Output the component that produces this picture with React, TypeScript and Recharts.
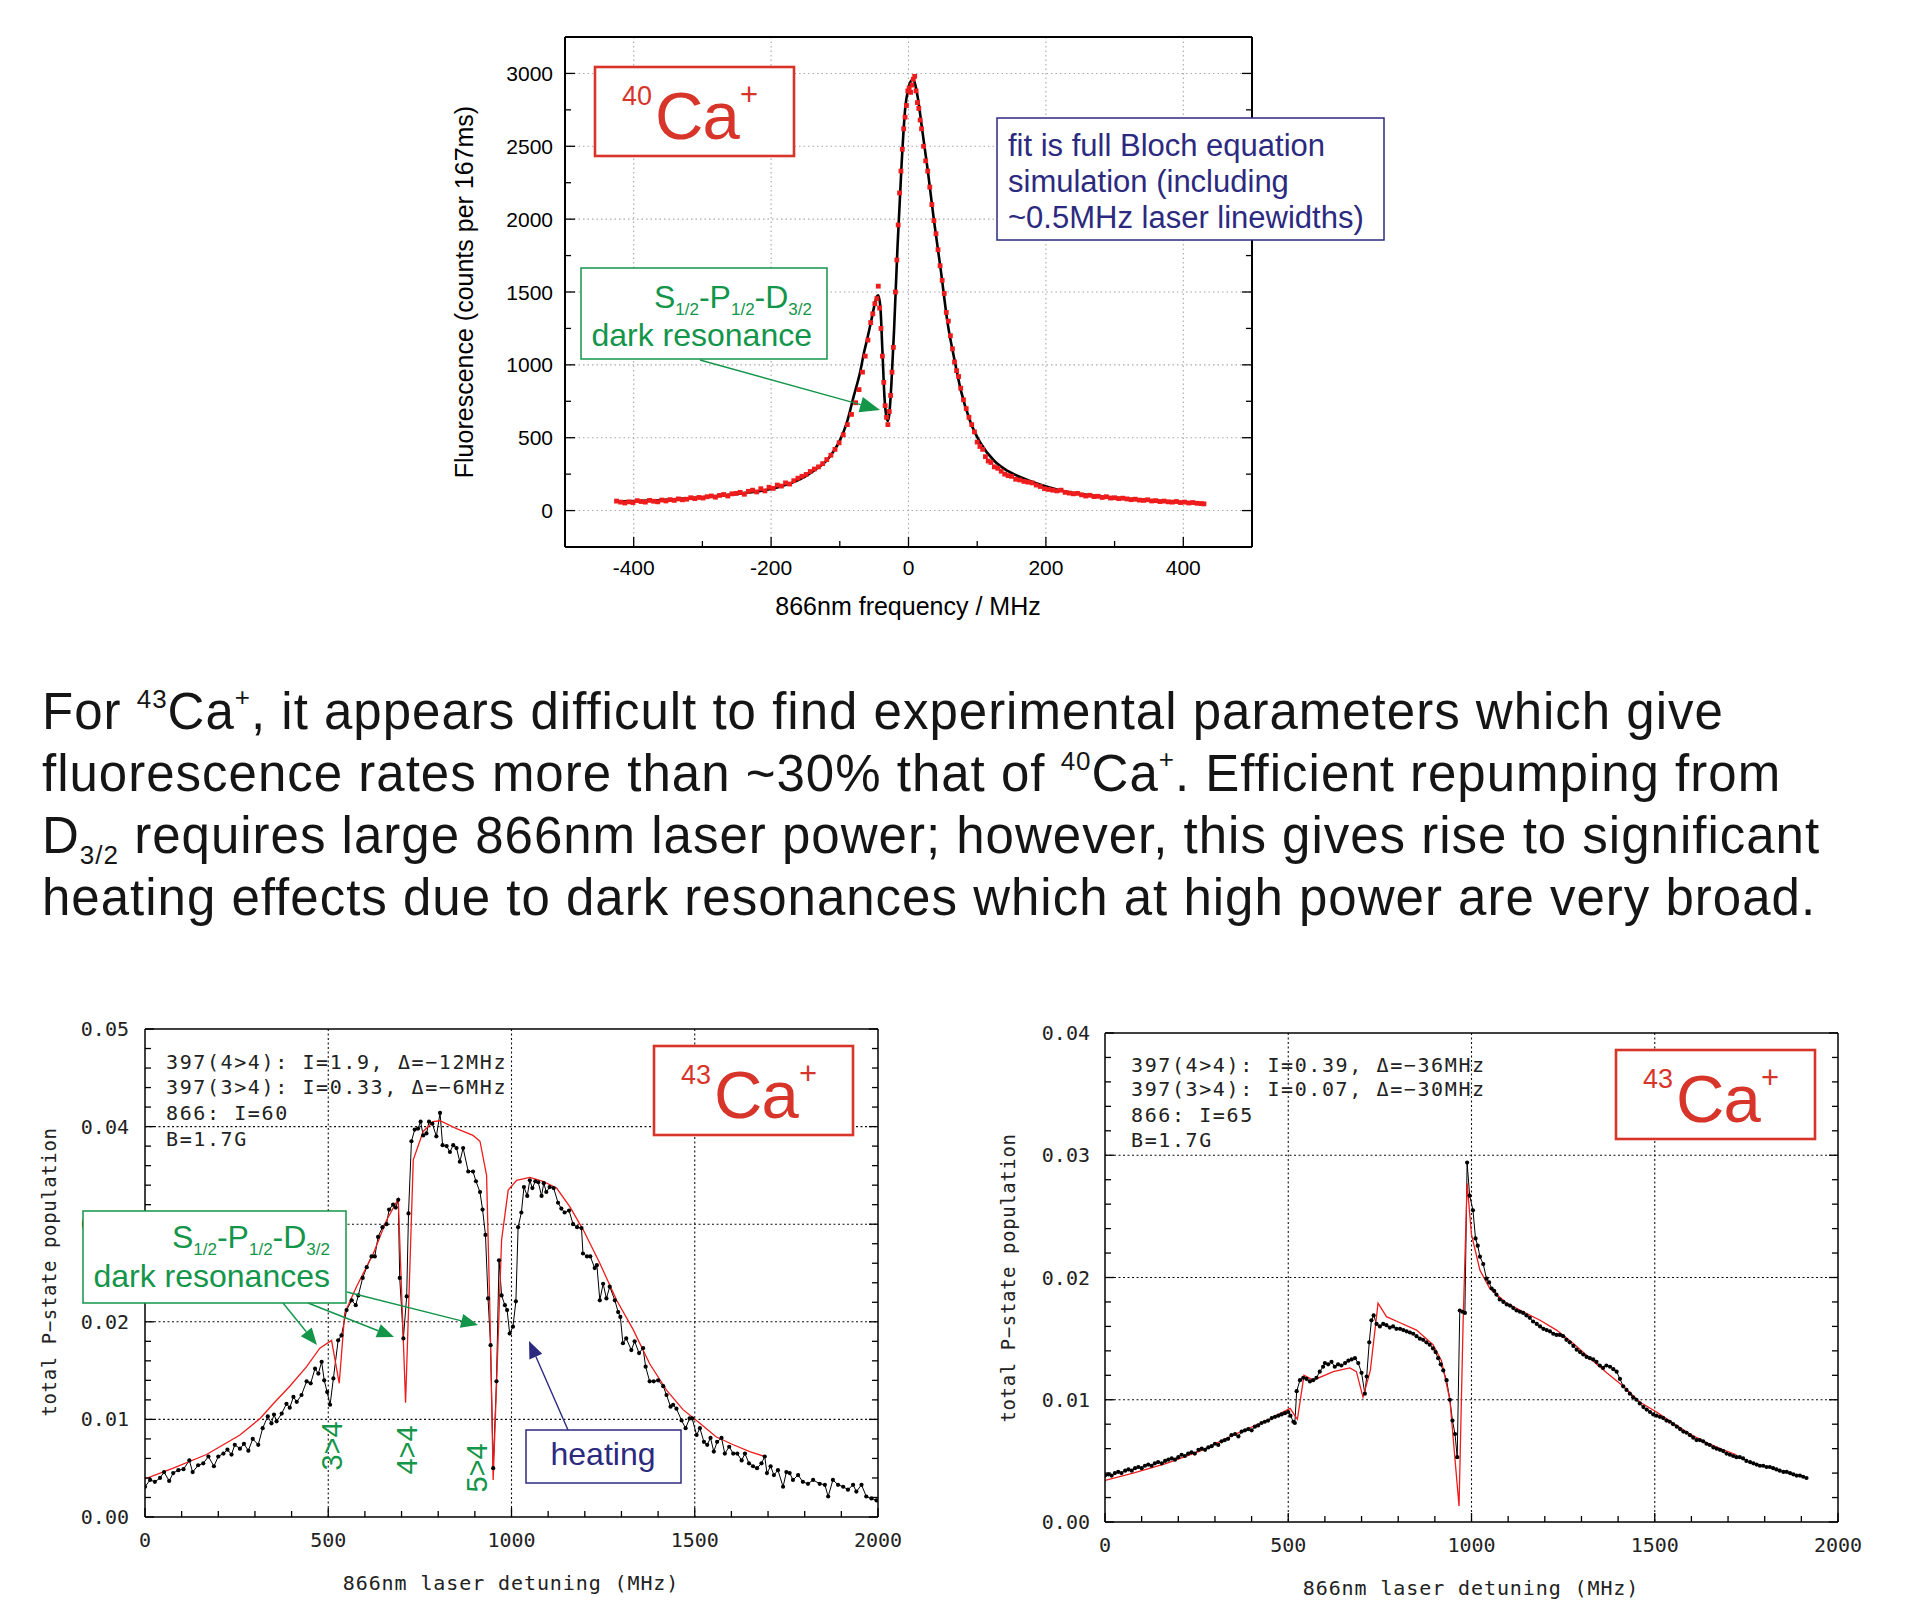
import React from 'react'
import { ComposedChart, Line, Scatter, XAxis, YAxis, CartesianGrid } from 'recharts'

const ARIAL = '"Liberation Sans", Arial, Helvetica, sans-serif'
const MONO = '"DejaVu Sans Mono", "Liberation Mono", monospace'
const RED = '#ee1c1c'
const RED_BOX = '#d8352a'
const GREEN = '#13954a'
const NAVY = '#2c2a7f'

// ---------- top panel: 40Ca+ fluorescence vs 866nm frequency ----------
const TOP_FIT_MHZ = [
  -425, -400, -360, -320, -280, -240, -200, -170, -150, -130, -120, -110, -100, -90, -80, -70, -65, -60, -55,
  -50, -46, -44, -41, -38, -35, -32, -30, -28, -25, -21, -16, -10, -5, 0, 4, 7, 10, 14, 20, 28, 37, 47, 57, 66,
  76, 90, 105, 125, 145, 165, 190, 220, 260, 300, 340, 380, 430,
]
const TOP_FIT_COUNTS = [
  62, 66, 72, 85, 100, 120, 148, 190, 235, 300, 340, 400, 480, 600, 780, 960, 1079, 1180, 1285,
  1400, 1470, 1478, 1400, 1100, 780, 640, 615, 660, 860, 1240, 1810, 2380, 2750, 2900, 2950, 2958, 2920, 2820, 2611, 2336, 1993, 1650, 1285, 1056,
  828, 610, 462, 340, 270, 225, 180, 140, 108, 88, 74, 62, 50,
]
const TOP_DATA_MHZ = [
  -425, -419, -413, -407, -401, -395, -389, -383, -377, -371, -365, -359, -353, -347, -341, -335, -329, -323,
  -317, -311, -305, -299, -293, -287, -281, -275, -269, -263, -257, -251, -245, -239, -233, -227, -221, -215,
  -209, -203, -197, -191, -185, -179, -173, -167, -161, -155, -149, -143, -137, -131, -125, -119, -113, -107,
  -101, -95, -89, -83, -77, -72, -67, -63, -59, -55, -52, -49, -46, -44, -42, -40, -38, -36, -34, -32, -30,
  -28, -26, -24, -22, -19, -17, -15, -13, -11, -9, -7, -5, -3, -1, 1, 3, 5, 7, 9, 11, 13, 15, 17, 19, 22, 25,
  28, 31, 34, 37, 40, 43, 46, 49, 52, 55, 58, 61, 64, 67, 70, 73, 76, 80, 84, 88, 92, 96, 100, 104, 108, 112,
  116, 120, 125, 130, 135, 140, 145, 150, 156, 162, 168, 174, 180, 186, 192, 198, 204, 210, 216, 222, 228,
  234, 240, 246, 252, 258, 264, 270, 276, 282, 288, 294, 300, 306, 312, 318, 324, 330, 336, 342, 348, 354,
  360, 366, 372, 378, 384, 390, 396, 402, 408, 414, 420, 426, 430,
]
const TOP_DATA_COUNTS = [
  65, 58, 52, 60, 55, 68, 62, 58, 70, 64, 60, 72, 66, 75, 70, 80, 74, 78,
  88, 82, 90, 86, 95, 100, 92, 104, 110, 100, 115, 118, 125, 112, 132, 140, 128, 150,
  135, 160, 152, 175, 168, 190, 182, 205, 222, 235, 248, 268, 285, 300, 322, 350, 380, 420,
  465, 520, 590, 660, 740, 830, 950, 1060, 1170, 1290, 1350, 1420, 1455, 1540, 1390, 1250, 1060, 880, 720, 640, 590,
  680, 790, 950, 1120, 1500, 1720, 1960, 2180, 2330, 2480, 2620, 2700, 2780, 2880, 2900, 2870, 2920, 2960, 2980, 2880, 2800, 2760, 2680, 2620, 2500, 2400,
  2330, 2220, 2100, 1990, 1900, 1790, 1680, 1580, 1490, 1360, 1300, 1200, 1110, 1020, 960, 920, 840, 760, 700, 640, 590, 540, 470, 440, 420, 370,
  340, 330, 300, 290, 270, 250, 240, 235, 215, 210, 200, 195, 190, 175, 165, 150, 145, 140, 135, 140, 125,
  120, 115, 118, 108, 100, 105, 96, 98, 90, 95, 86, 88, 82, 85, 80, 75, 78, 72, 70, 74, 66,
  68, 62, 65, 60, 58, 62, 55, 58, 52, 55, 50, 48, 46,
]
const TOP_X_TICKS = [-400, -300, -200, -100, 0, 100, 200, 300, 400]
const TOP_X_MAJOR = [-400, -200, 0, 200, 400]
const TOP_Y_TICKS = [0, 250, 500, 750, 1000, 1250, 1500, 1750, 2000, 2250, 2500, 2750, 3000]
const TOP_Y_MAJOR = [0, 500, 1000, 1500, 2000, 2500, 3000]

// ---------- bottom left: 43Ca+, I866 = 60 ----------
const BL_FIT_MHZ = [
  0, 77, 168, 259, 314, 350, 395, 441, 477, 509, 530, 545, 577, 623, 659, 691, 711, 732, 759, 786, 805, 850,
  895, 914, 932, 941, 950, 973, 991, 1014, 1050, 1086, 1123, 1159, 1196, 1241, 1287, 1332, 1377, 1423, 1468,
  1514, 1559, 1605, 1650, 1691,
]
const BL_FIT_POP = [
  0.0039, 0.005, 0.0064, 0.0084, 0.0101, 0.0116, 0.0134, 0.0154, 0.0173, 0.0181, 0.0137, 0.0209, 0.0236,
  0.027, 0.0304, 0.0326, 0.0117, 0.0366, 0.0395, 0.0405, 0.0406, 0.0398, 0.0391, 0.0385, 0.035, 0.0212,
  0.0038, 0.0284, 0.0335, 0.0345, 0.0348, 0.0344, 0.0337, 0.0318, 0.0294, 0.026, 0.0222, 0.0192, 0.0157,
  0.013, 0.011, 0.0096, 0.0082, 0.0074, 0.0067, 0.0062,
]
const BL_DATA_MHZ = [
  0, 14, 27, 41, 52, 66, 77, 91, 105, 121, 130, 145, 159, 173, 188, 200, 214, 225, 236, 245, 259, 270, 282,
  294, 309, 321, 335, 345, 352, 359, 373, 386, 395, 405, 414, 427, 441, 452, 464, 473, 482, 489, 497, 505,
  514, 527, 536, 550, 564, 575, 582, 594, 605, 618, 627, 636, 648, 659, 666, 677, 684, 691, 695, 705, 714,
  719, 727, 736, 745, 752, 759, 768, 775, 784, 795, 805, 812, 823, 832, 841, 850, 859, 868, 882, 895, 903,
  914, 921, 929, 936, 943, 950, 959, 966, 973, 982, 988, 995, 1004, 1012, 1018, 1027, 1034, 1043, 1050,
  1057, 1065, 1073, 1082, 1088, 1095, 1104, 1115, 1127, 1136, 1145, 1157, 1168, 1179, 1191, 1195, 1206,
  1215, 1227, 1233, 1241, 1250, 1259, 1268, 1282, 1291, 1297, 1304, 1313, 1327, 1336, 1348, 1359, 1366,
  1377, 1388, 1400, 1414, 1423, 1434, 1441, 1450, 1464, 1475, 1486, 1493, 1505, 1514, 1525, 1534, 1543,
  1552, 1561, 1573, 1582, 1594, 1605, 1616, 1628, 1637, 1648, 1659, 1670, 1682, 1691, 1697, 1707, 1716,
  1727, 1741, 1750, 1759, 1768, 1782, 1795, 1809, 1823, 1841, 1855, 1864, 1877, 1891, 1905, 1918, 1932,
  1941, 1955, 1968, 1982, 1996,
]
const BL_DATA_POP = [
  0.0031, 0.0038, 0.0036, 0.004, 0.0046, 0.0037, 0.0045, 0.0048, 0.0049, 0.0058, 0.0046, 0.0053, 0.0055,
  0.0062, 0.0052, 0.0062, 0.0065, 0.0069, 0.0064, 0.0074, 0.007, 0.0075, 0.0068, 0.008, 0.0074, 0.0091,
  0.0103, 0.0096, 0.0105, 0.0098, 0.0106, 0.0116, 0.0112, 0.0123, 0.0118, 0.0125, 0.0139, 0.0137, 0.0152,
  0.0147, 0.0159, 0.014, 0.0128, 0.0115, 0.0142, 0.0181, 0.0186, 0.0212, 0.0222, 0.0217, 0.0227, 0.0245,
  0.0256, 0.0267, 0.0267, 0.0287, 0.0297, 0.03, 0.0315, 0.032, 0.0317, 0.0325, 0.0245, 0.0183, 0.0226,
  0.0311, 0.0385, 0.0397, 0.0398, 0.0405, 0.0391, 0.0393, 0.0405, 0.0403, 0.039, 0.0414, 0.0381, 0.038,
  0.0374, 0.0381, 0.0378, 0.0364, 0.0378, 0.0354, 0.0354, 0.0344, 0.0333, 0.0315, 0.0289, 0.0224, 0.0176,
  0.005, 0.0139, 0.0263, 0.0227, 0.0217, 0.0212, 0.0188, 0.0195, 0.0221, 0.0297, 0.0312, 0.0338, 0.0329,
  0.0345, 0.0337, 0.0344, 0.0343, 0.0329, 0.0342, 0.0333, 0.0338, 0.0337, 0.0322, 0.0316, 0.0312, 0.0314,
  0.03, 0.0297, 0.0296, 0.027, 0.0267, 0.0267, 0.0255, 0.0258, 0.0222, 0.0239, 0.0224, 0.0236, 0.0222,
  0.021, 0.0205, 0.0178, 0.0183, 0.0171, 0.018, 0.0168, 0.0173, 0.0154, 0.0139, 0.0139, 0.014, 0.0134,
  0.0125, 0.0113, 0.0115, 0.0111, 0.0099, 0.0091, 0.0101, 0.0101, 0.0084, 0.0091, 0.0077, 0.0074, 0.0081,
  0.0067, 0.0077, 0.0081, 0.0065, 0.0072, 0.0065, 0.0065, 0.0058, 0.0065, 0.0055, 0.0052, 0.005, 0.0055,
  0.0062, 0.0045, 0.0052, 0.0043, 0.0048, 0.0031, 0.0046, 0.0045, 0.0038, 0.0043, 0.0036, 0.0034, 0.0038,
  0.0034, 0.0033, 0.0021, 0.0038, 0.0033, 0.0031, 0.0028, 0.0033, 0.0026, 0.0033, 0.0021, 0.0019, 0.0017,
]

// ---------- bottom right: 43Ca+, I866 = 65 ----------
const BR_FIT_MHZ = [
  0, 77, 168, 259, 350, 441, 505, 525, 543, 568, 623, 668, 686, 704, 724, 745, 768, 805, 850, 895, 918, 941,
  966, 977, 988, 1000, 1023, 1050, 1096, 1141, 1187, 1232, 1278, 1323, 1369, 1414, 1460, 1505, 1550, 1596,
  1641, 1687, 1723,
]
const BR_FIT_POP = [
  0.0034, 0.004, 0.0048, 0.0058, 0.0071, 0.0083, 0.0093, 0.0084, 0.012, 0.0116, 0.0123, 0.0126, 0.0123,
  0.0102, 0.0124, 0.0179, 0.0168, 0.0163, 0.0157, 0.0145, 0.0132, 0.01, 0.0013, 0.0162, 0.0277, 0.0235,
  0.0206, 0.0191, 0.0179, 0.0172, 0.0165, 0.0157, 0.0146, 0.0134, 0.0122, 0.0111, 0.0098, 0.009, 0.0081,
  0.0072, 0.0065, 0.0059, 0.0055,
]
const BR_DATA_MHZ = [
  0, 9, 18, 27, 36, 45, 55, 64, 73, 82, 91, 100, 109, 118, 127, 136, 145, 155, 164, 173, 182, 191, 200, 209,
  218, 227, 236, 245, 255, 264, 273, 282, 291, 300, 309, 318, 327, 336, 345, 355, 364, 373, 382, 391, 400,
  409, 418, 427, 436, 445, 455, 464, 473, 482, 491, 500, 506, 514, 518, 523, 532, 541, 550, 559, 568, 577,
  586, 595, 600, 609, 618, 627, 636, 645, 655, 664, 673, 682, 691, 700, 709, 714, 721, 727, 733, 741, 750,
  759, 768, 777, 786, 795, 805, 814, 823, 832, 841, 850, 859, 868, 877, 886, 895, 902, 909, 916, 923, 932,
  941, 948, 955, 961, 968, 975, 982, 988, 995, 1004, 1011, 1017, 1023, 1032, 1041, 1048, 1055, 1062, 1068,
  1077, 1087, 1096, 1105, 1114, 1123, 1132, 1141, 1150, 1159, 1168, 1178, 1187, 1196, 1205, 1214, 1223,
  1232, 1241, 1250, 1259, 1268, 1278, 1287, 1296, 1305, 1314, 1323, 1332, 1341, 1350, 1359, 1368, 1378,
  1387, 1396, 1405, 1414, 1423, 1432, 1441, 1450, 1459, 1469, 1478, 1487, 1496, 1505, 1514, 1523, 1532,
  1541, 1550, 1560, 1569, 1578, 1587, 1596, 1605, 1614, 1623, 1632, 1641, 1650, 1660, 1669, 1678, 1687,
  1696, 1705, 1714, 1723, 1732, 1741, 1750, 1760, 1769, 1778, 1787, 1796, 1805, 1814, 1823, 1832, 1841,
  1851, 1860, 1869, 1878, 1887, 1896, 1905, 1914,
]
const BR_DATA_POP = [
  0.0038, 0.0039, 0.0038, 0.004, 0.0041, 0.004, 0.0042, 0.0043, 0.0042, 0.0044, 0.0045, 0.0044, 0.0046,
  0.0047, 0.0046, 0.0048, 0.0049, 0.0048, 0.005, 0.0051, 0.0052, 0.0051, 0.0053, 0.0055, 0.0054, 0.0056,
  0.0057, 0.0056, 0.0059, 0.006, 0.0059, 0.0061, 0.0062, 0.0064, 0.0063, 0.0066, 0.0067, 0.0068, 0.0071,
  0.0072, 0.007, 0.0074, 0.0075, 0.0076, 0.0075, 0.0078, 0.0079, 0.0081, 0.0082, 0.0083, 0.0085, 0.0086,
  0.0087, 0.0088, 0.0089, 0.009, 0.0087, 0.0082, 0.0081, 0.0107, 0.0116, 0.0118, 0.0117, 0.0115, 0.0116,
  0.0118, 0.0123, 0.0127, 0.013, 0.0129, 0.0131, 0.0127, 0.0129, 0.0128, 0.013, 0.0132, 0.0133, 0.0134,
  0.013, 0.0122, 0.0105, 0.0119, 0.0147, 0.0165, 0.0169, 0.0162, 0.016, 0.0162, 0.0161, 0.0159, 0.016,
  0.0158, 0.0158, 0.0157, 0.0156, 0.0155, 0.0154, 0.0152, 0.015, 0.0149, 0.0147, 0.0145, 0.0142, 0.0139,
  0.0134, 0.0129, 0.0124, 0.0116, 0.01, 0.0083, 0.0072, 0.0053, 0.0173, 0.0172, 0.0171, 0.0294, 0.0267,
  0.0255, 0.0232, 0.0226, 0.0217, 0.0211, 0.0199, 0.0196, 0.0191, 0.0189, 0.0186, 0.0182, 0.018, 0.0178,
  0.0177, 0.0175, 0.0173, 0.0172, 0.0171, 0.0169, 0.0167, 0.0164, 0.0162, 0.016, 0.0158, 0.0157, 0.0156,
  0.0154, 0.0153, 0.0153, 0.0152, 0.0149, 0.0147, 0.0144, 0.0141, 0.0139, 0.0137, 0.0135, 0.0134, 0.0133,
  0.0131, 0.0128, 0.0126, 0.0128, 0.0127, 0.0125, 0.0123, 0.0117, 0.0111, 0.0108, 0.0105, 0.0102, 0.01,
  0.0097, 0.0094, 0.0092, 0.009, 0.0088, 0.0087, 0.0086, 0.0085, 0.0083, 0.0082, 0.008, 0.0078, 0.0076,
  0.0074, 0.0073, 0.0071, 0.0069, 0.0067, 0.0067, 0.0066, 0.0064, 0.0063, 0.0061, 0.006, 0.0059, 0.0058,
  0.0056, 0.0055, 0.0054, 0.0053, 0.0053, 0.0052, 0.005, 0.0049, 0.0048, 0.0047, 0.0046, 0.0046, 0.0045,
  0.0045, 0.0044, 0.0043, 0.0042, 0.0041, 0.0041, 0.004, 0.0039, 0.0038, 0.0038, 0.0037, 0.0036,
]

const DET_TICKS = [0, 100, 200, 300, 400, 500, 600, 700, 800, 900, 1000, 1100, 1200, 1300, 1400, 1500, 1600, 1700, 1800, 1900, 2000]
const DET_MAJOR = [0, 500, 1000, 1500, 2000]
const BL_Y_TICKS = [
  0, 0.002, 0.004, 0.006, 0.008, 0.01, 0.012, 0.014, 0.016, 0.018, 0.02, 0.022, 0.024, 0.026, 0.028, 0.03,
  0.032, 0.034, 0.036, 0.038, 0.04, 0.042, 0.044, 0.046, 0.048, 0.05,
]
const BL_Y_MAJOR = [0, 0.01, 0.02, 0.03, 0.04, 0.05]
const BR_Y_TICKS = [
  0, 0.002, 0.004, 0.006, 0.008, 0.01, 0.012, 0.014, 0.016, 0.018, 0.02, 0.022, 0.024, 0.026, 0.028, 0.03,
  0.032, 0.034, 0.036, 0.038, 0.04,
]
const BR_Y_MAJOR = [0, 0.01, 0.02, 0.03, 0.04]

const zip = (xs: number[], ys: number[]) => xs.map((x, i) => ({ x, y: ys[i] }))

type Side = 'bottom' | 'top' | 'left' | 'right'
interface TickLook {
  majors: number[]
  major: number
  minor: number
  labels: boolean
  fmt: (v: number) => string
  gap: number
  font: string
  size: number
  color: string
  spacing?: number
}

function makeTick(side: Side, t: TickLook) {
  return (p: any) => {
    const x = Number(p.x)
    const y = Number(p.y)
    const v = Number(p.payload?.value)
    const isMajor = t.majors.some((m) => Math.abs(m - v) < 1e-9)
    const len = isMajor ? t.major : t.minor
    let x2 = x
    let y2 = y
    if (side === 'bottom') y2 = y - len
    if (side === 'top') y2 = y + len
    if (side === 'left') x2 = x + len
    if (side === 'right') x2 = x - len
    const showLabel = t.labels && isMajor
    return (
      <g>
        <line x1={x} y1={y} x2={x2} y2={y2} stroke="#000" strokeWidth={1.3} />
        {showLabel && side === 'bottom' && (
          <text x={x} y={y + t.gap} textAnchor="middle" dominantBaseline="central" fontFamily={t.font}
            fontSize={t.size} fill={t.color} letterSpacing={t.spacing ?? 0}>{t.fmt(v)}</text>
        )}
        {showLabel && side === 'left' && (
          <text x={x - t.gap} y={y} textAnchor="end" dominantBaseline="central" fontFamily={t.font}
            fontSize={t.size} fill={t.color} letterSpacing={t.spacing ?? 0}>{t.fmt(v)}</text>
        )}
      </g>
    )
  }
}

interface AxisSpec {
  domain: [number, number]
  ticks: number[]
  look: TickLook
}

interface PanelProps {
  box: { left: number; top: number; width: number; height: number }
  plot: { l: number; r: number; t: number; b: number }
  x: AxisSpec
  y: AxisSpec
  frame: number
  gridX: number[]
  gridY: number[]
  gridStroke: string
  gridDash: string
  children: React.ReactNode
}

function Panel({ box, plot, x, y, frame, gridX, gridY, gridStroke, gridDash, children }: PanelProps) {
  const margin = {
    left: plot.l - box.left - 1,
    right: box.left + box.width - plot.r - 1,
    top: plot.t - box.top - 1,
    bottom: box.top + box.height - plot.b - 1,
  }
  const axisLine = { stroke: '#000', strokeWidth: frame }
  const quiet = { ...x.look, labels: false }
  const quietY = { ...y.look, labels: false }
  return (
    <div style={{ position: 'absolute', left: box.left, top: box.top, width: box.width, height: box.height }}>
      <ComposedChart width={box.width} height={box.height} margin={margin}>
        <CartesianGrid verticalValues={gridX} horizontalValues={gridY} stroke={gridStroke}
          strokeDasharray={gridDash} strokeWidth={1.1} />
        <XAxis type="number" dataKey="x" domain={x.domain} ticks={x.ticks} interval={0} allowDataOverflow
          height={1} tickSize={0} tickMargin={0} tickLine={false} axisLine={axisLine} tick={makeTick('bottom', x.look)} />
        <XAxis xAxisId="top" orientation="top" type="number" domain={x.domain} ticks={x.ticks} interval={0}
          allowDataOverflow height={1} tickSize={0} tickMargin={0} tickLine={false} axisLine={axisLine}
          tick={makeTick('top', quiet)} />
        <YAxis type="number" dataKey="y" domain={y.domain} ticks={y.ticks} interval={0} allowDataOverflow
          width={1} tickSize={0} tickMargin={0} tickLine={false} axisLine={axisLine} tick={makeTick('left', y.look)} />
        <YAxis yAxisId="right" orientation="right" type="number" domain={y.domain} ticks={y.ticks} interval={0}
          allowDataOverflow width={1} tickSize={0} tickMargin={0} tickLine={false} axisLine={axisLine}
          tick={makeTick('right', quietY)} />
        {children}
      </ComposedChart>
    </div>
  )
}

function Arrow({ x1, y1, x2, y2, color, head = 18, half = 7, width = 1.4 }: {
  x1: number; y1: number; x2: number; y2: number; color: string; head?: number; half?: number; width?: number
}) {
  const dx = x2 - x1
  const dy = y2 - y1
  const len = Math.hypot(dx, dy)
  const ux = dx / len
  const uy = dy / len
  const bx = x2 - ux * head
  const by = y2 - uy * head
  const pts = `${x2},${y2} ${bx - uy * half},${by + ux * half} ${bx + uy * half},${by - ux * half}`
  return (
    <g>
      <line x1={x1} y1={y1} x2={bx} y2={by} stroke={color} strokeWidth={width} />
      <polygon points={pts} fill={color} />
    </g>
  )
}

function CaBox({ x, y, mass }: { x: number; y: number; mass: string }) {
  return (
    <g fontFamily={ARIAL} fill={RED_BOX}>
      <rect x={x} y={y} width={199} height={89} fill="#fff" stroke={RED_BOX} strokeWidth={2.6} />
      <text x={x + 27} y={y + 38} fontSize={27}>{mass}</text>
      <text x={x + 60} y={y + 72} fontSize={67} letterSpacing={-1}>Ca</text>
      <text x={x + 145} y={y + 38} fontSize={31}>+</text>
    </g>
  )
}

function SPD({ right, y, size }: { right: number; y: number; size: number }) {
  const s = Math.round(size * 0.53)
  return (
    <text x={right} y={y} textAnchor="end" fontFamily={ARIAL} fontSize={size} fill={GREEN}>
      S<tspan fontSize={s} dy={7}>1/2</tspan><tspan dy={-7}>-P</tspan><tspan fontSize={s} dy={7}>1/2</tspan>
      <tspan dy={-7}>-D</tspan><tspan fontSize={s} dy={7}>3/2</tspan>
    </text>
  )
}

const topLook = (majors: number[]): TickLook => ({
  majors, major: 10, minor: 6, labels: true, fmt: (v) => String(v), gap: 20, font: ARIAL, size: 21, color: '#000',
})
const detLook = (majors: number[], gap: number, fmt: (v: number) => string): TickLook => ({
  majors, major: 9, minor: 6, labels: true, fmt, gap, font: MONO, size: 20, color: '#222',
})

export default function App() {
  const topFit = zip(TOP_FIT_MHZ, TOP_FIT_COUNTS)
  const topData = zip(TOP_DATA_MHZ, TOP_DATA_COUNTS)
  const blFit = zip(BL_FIT_MHZ, BL_FIT_POP)
  const blData = zip(BL_DATA_MHZ, BL_DATA_POP)
  const brFit = zip(BR_FIT_MHZ, BR_FIT_POP)
  const brData = zip(BR_DATA_MHZ, BR_DATA_POP)
  const pop = (v: number) => v.toFixed(2)

  return (
    <div style={{ position: 'absolute', left: 0, top: 0, width: 1909, height: 1618, background: '#fff', overflow: 'hidden' }}>
      <Panel
        box={{ left: 0, top: 0, width: 1909, height: 660 }}
        plot={{ l: 565, r: 1252, t: 37, b: 547 }}
        x={{ domain: [-500, 500], ticks: TOP_X_TICKS, look: topLook(TOP_X_MAJOR) }}
        y={{ domain: [-250, 3250], ticks: TOP_Y_TICKS, look: { ...topLook(TOP_Y_MAJOR), gap: 12 } }}
        frame={2}
        gridX={TOP_X_MAJOR}
        gridY={TOP_Y_MAJOR}
        gridStroke="#a8a8a8"
        gridDash="1.5 3"
      >
        <Line data={topFit} dataKey="y" type="monotone" stroke="#000" strokeWidth={2.6} dot={false} isAnimationActive={false} />
        <Scatter data={topData} dataKey="y" isAnimationActive={false}
          shape={(p: any) => <rect x={p.cx - 2.4} y={p.cy - 2.4} width={4.8} height={4.8} fill={RED} />} />
      </Panel>

      <Panel
        box={{ left: 0, top: 980, width: 960, height: 638 }}
        plot={{ l: 145, r: 878, t: 1029, b: 1517 }}
        x={{ domain: [0, 2000], ticks: DET_TICKS, look: detLook(DET_MAJOR, 23, (v) => String(v)) }}
        y={{ domain: [0, 0.05], ticks: BL_Y_TICKS, look: detLook(BL_Y_MAJOR, 16, pop) }}
        frame={1.5}
        gridX={[500, 1000, 1500]}
        gridY={[0.01, 0.02, 0.03, 0.04]}
        gridStroke="#111"
        gridDash="2 2.5"
      >
        <Line data={blData} dataKey="y" type="linear" stroke="#000" strokeWidth={1}
          dot={{ r: 2.1, fill: '#000', stroke: 'none' }} isAnimationActive={false} />
        <Line data={blFit} dataKey="y" type="linear" stroke={RED} strokeWidth={1.3} dot={false} isAnimationActive={false} />
      </Panel>

      <Panel
        box={{ left: 960, top: 980, width: 949, height: 638 }}
        plot={{ l: 1105, r: 1838, t: 1033, b: 1522 }}
        x={{ domain: [0, 2000], ticks: DET_TICKS, look: detLook(DET_MAJOR, 23, (v) => String(v)) }}
        y={{ domain: [0, 0.04], ticks: BR_Y_TICKS, look: detLook(BR_Y_MAJOR, 15, pop) }}
        frame={1.5}
        gridX={[500, 1000, 1500]}
        gridY={[0.01, 0.02, 0.03]}
        gridStroke="#111"
        gridDash="2 2.5"
      >
        <Line data={brData} dataKey="y" type="linear" stroke="#000" strokeWidth={1}
          dot={{ r: 2.1, fill: '#000', stroke: 'none' }} isAnimationActive={false} />
        <Line data={brFit} dataKey="y" type="linear" stroke={RED} strokeWidth={1.3} dot={false} isAnimationActive={false} />
      </Panel>

      <svg width={1909} height={1618} style={{ position: 'absolute', left: 0, top: 0, pointerEvents: 'none' }}>
        {/* top panel labels and notes */}
        <text x={908} y={606} textAnchor="middle" dominantBaseline="central" fontFamily={ARIAL} fontSize={25}>866nm frequency / MHz</text>
        <text x={464} y={292} textAnchor="middle" dominantBaseline="central" fontFamily={ARIAL} fontSize={25}
          transform="rotate(-90 464 292)">Fluorescence (counts per 167ms)</text>
        <CaBox x={595} y={67} mass="40" />
        <rect x={997} y={118} width={387} height={122} fill="#fff" stroke={NAVY} strokeWidth={1.5} />
        <g fontFamily={ARIAL} fontSize={31} fill={NAVY}>
          <text x={1008} y={156}>fit is full Bloch equation</text>
          <text x={1008} y={192}>simulation (including</text>
          <text x={1008} y={228}>~0.5MHz laser linewidths)</text>
        </g>
        <rect x={581} y={268} width={246} height={91} fill="#fff" stroke={GREEN} strokeWidth={1.5} />
        <SPD right={812} y={308} size={32} />
        <text x={812} y={346} textAnchor="end" fontFamily={ARIAL} fontSize={32} fill={GREEN}>dark resonance</text>
        <Arrow x1={700} y1={360} x2={880} y2={410} color={GREEN} head={20} half={8} />

        {/* paragraph */}
        <g fontFamily={ARIAL} fontSize={51} fill="#151515" letterSpacing={1}>
          <text x={42} y={729}>
            {'For '}<tspan fontSize={26} dy={-21}>43</tspan><tspan dy={21}>Ca</tspan><tspan fontSize={26} dy={-23}>+</tspan>
            <tspan dy={23}>, it appears difficult to find experimental parameters which give</tspan>
          </text>
          <text x={42} y={791}>
            {'fluorescence rates more than ~30% that of '}<tspan fontSize={26} dy={-21}>40</tspan><tspan dy={21}>Ca</tspan>
            <tspan fontSize={26} dy={-23}>+</tspan><tspan dy={23}>. Efficient repumping from</tspan>
          </text>
          <text x={42} y={853}>
            D<tspan fontSize={26} dy={11}>3/2</tspan><tspan dy={-11}> requires large 866nm laser power; however, this gives rise to significant</tspan>
          </text>
          <text x={42} y={915}>heating effects due to dark resonances which at high power are very broad.</text>
        </g>

        {/* bottom left notes */}
        <g fontFamily={MONO} fontSize={20} fill="#222" letterSpacing={1.6}>
          <text x={166} y={1069}>397(4&gt;4): I=1.9, Δ=−12MHz</text>
          <text x={166} y={1094}>397(3&gt;4): I=0.33, Δ=−6MHz</text>
          <text x={166} y={1120}>866: I=60</text>
          <text x={166} y={1146}>B=1.7G</text>
        </g>
        <CaBox x={654} y={1046} mass="43" />
        <rect x={83} y={1211} width={263} height={92} fill="#fff" stroke={GREEN} strokeWidth={1.5} />
        <SPD right={330} y={1248} size={32} />
        <text x={330} y={1287} textAnchor="end" fontFamily={ARIAL} fontSize={32} fill={GREEN}>dark resonances</text>
        <Arrow x1={283} y1={1303} x2={317} y2={1345} color={GREEN} head={17} half={7} />
        <Arrow x1={308} y1={1303} x2={394} y2={1337} color={GREEN} head={17} half={7} />
        <Arrow x1={347} y1={1292} x2={478} y2={1325} color={GREEN} head={17} half={7} />
        <g fontFamily={ARIAL} fontSize={29} fill={GREEN} textAnchor="middle" dominantBaseline="central">
          <text x={332} y={1446} transform="rotate(-90 332 1446)">3&gt;4</text>
          <text x={407} y={1450} transform="rotate(-90 407 1450)">4&gt;4</text>
          <text x={477} y={1468} transform="rotate(-90 477 1468)">5&gt;4</text>
        </g>
        <rect x={526} y={1430} width={155} height={53} fill="#fff" stroke={NAVY} strokeWidth={1.5} />
        <text x={603} y={1465} textAnchor="middle" fontFamily={ARIAL} fontSize={32} fill={NAVY}>heating</text>
        <Arrow x1={568} y1={1430} x2={529} y2={1341} color={NAVY} head={17} half={7} />
        <text x={49} y={1272} textAnchor="middle" dominantBaseline="central" fontFamily={MONO} fontSize={19}
          letterSpacing={0.6} fill="#222" transform="rotate(-90 49 1272)">total P−state population</text>
        <text x={511} y={1583} textAnchor="middle" dominantBaseline="central" fontFamily={MONO} fontSize={20}
          letterSpacing={0.9} fill="#222">866nm laser detuning (MHz)</text>

        {/* bottom right notes */}
        <g fontFamily={MONO} fontSize={20} fill="#222" letterSpacing={1.6}>
          <text x={1131} y={1072}>397(4&gt;4): I=0.39, Δ=−36MHz</text>
          <text x={1131} y={1096}>397(3&gt;4): I=0.07, Δ=−30MHz</text>
          <text x={1131} y={1122}>866: I=65</text>
          <text x={1131} y={1147}>B=1.7G</text>
        </g>
        <CaBox x={1616} y={1050} mass="43" />
        <text x={1008} y={1278} textAnchor="middle" dominantBaseline="central" fontFamily={MONO} fontSize={19}
          letterSpacing={0.6} fill="#222" transform="rotate(-90 1008 1278)">total P−state population</text>
        <text x={1471} y={1588} textAnchor="middle" dominantBaseline="central" fontFamily={MONO} fontSize={20}
          letterSpacing={0.9} fill="#222">866nm laser detuning (MHz)</text>
      </svg>
    </div>
  )
}
